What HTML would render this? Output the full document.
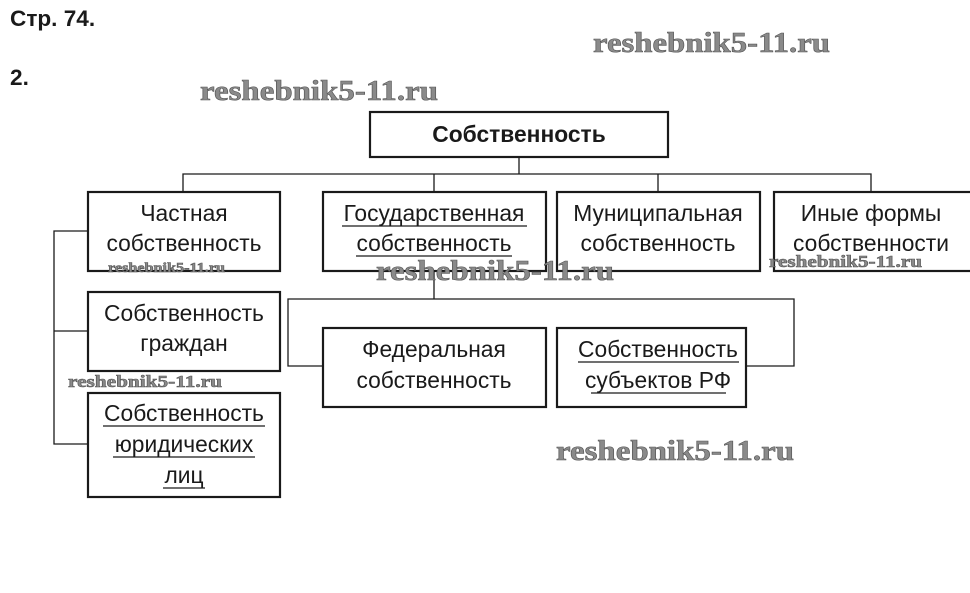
<!DOCTYPE html>
<html><head><meta charset="utf-8"><style>
html,body{margin:0;padding:0;background:#fff;}
svg{display:block;}
.t{font-family:"Liberation Sans","DejaVu Sans",sans-serif;font-size:22.8px;fill:#1a1a1a;text-anchor:middle;}
.w{font-family:"Liberation Serif","DejaVu Serif",serif;font-weight:bold;fill:#8a8a8a;stroke:#555;stroke-width:0.6;}
</style></head><body>
<svg width="970" height="593" viewBox="0 0 970 593" xmlns="http://www.w3.org/2000/svg">
<rect width="970" height="593" fill="#fff"/>
<text x="10" y="26" font-family="Liberation Sans,sans-serif" font-weight="bold" font-size="22.6" fill="#1a1a1a">Стр. 74.</text>
<text x="10" y="85" font-family="Liberation Sans,sans-serif" font-weight="bold" font-size="22.6" fill="#1a1a1a">2.</text>

<g fill="none" stroke="#1a1a1a" stroke-width="1.3">
<polyline points="519,157 519,174"/>
<polyline points="183,192 183,174 871,174 871,192"/>
<line x1="434" y1="174" x2="434" y2="192"/>
<line x1="658" y1="174" x2="658" y2="192"/>
<line x1="434" y1="271" x2="434" y2="299"/>
<polyline points="323,366 288,366 288,299 794,299 794,366 746,366"/>
<polyline points="88,231 54,231 54,444 88,444"/>
<line x1="54" y1="331" x2="88" y2="331"/>
</g>
<g fill="#fff" stroke="#1a1a1a" stroke-width="2.2">
<rect x="370" y="112" width="298" height="45"/>
<rect x="88" y="192" width="192" height="79"/>
<rect x="323" y="192" width="223" height="79"/>
<rect x="557" y="192" width="203" height="79"/>
<rect x="774" y="192" width="200" height="79"/>
<rect x="88" y="292" width="192" height="79"/>
<rect x="88" y="393" width="192" height="104"/>
<rect x="323" y="328" width="223" height="79"/>
<rect x="557" y="328" width="189" height="79"/>
</g>
<text x="519" y="142" class="t" font-weight="bold">Собственность</text>
<text x="184" y="221" class="t">Частная</text>
<text x="184" y="251" class="t">собственность</text>
<text x="434" y="221" class="t">Государственная</text>
<text x="434" y="251" class="t">собственность</text>
<text x="658" y="221" class="t">Муниципальная</text>
<text x="658" y="251" class="t">собственность</text>
<text x="871" y="221" class="t">Иные формы</text>
<text x="871" y="251" class="t">собственности</text>
<text x="184" y="321" class="t">Собственность</text>
<text x="184" y="351" class="t">граждан</text>
<text x="184" y="421" class="t">Собственность</text>
<text x="184" y="452" class="t">юридических</text>
<text x="184" y="483" class="t">лиц</text>
<text x="434" y="357" class="t">Федеральная</text>
<text x="434" y="388" class="t">собственность</text>
<text x="658" y="357" class="t">Собственность</text>
<text x="658" y="388" class="t">субъектов РФ</text>
<g stroke="#1a1a1a" stroke-width="1.2">
<line x1="342" y1="226" x2="527" y2="226"/>
<line x1="356" y1="256" x2="512" y2="256"/>
<line x1="578" y1="362" x2="739" y2="362"/>
<line x1="591" y1="393" x2="726" y2="393"/>
<line x1="103" y1="426" x2="265" y2="426"/>
<line x1="113" y1="457" x2="255" y2="457"/>
<line x1="163" y1="488" x2="205" y2="488"/>
</g>
<text x="593" y="52" class="w" font-size="28" textLength="237" lengthAdjust="spacingAndGlyphs">reshebnik5-11.ru</text>
<text x="200" y="100" class="w" font-size="28" textLength="238" lengthAdjust="spacingAndGlyphs">reshebnik5-11.ru</text>
<text x="376" y="280" class="w" font-size="28" textLength="238" lengthAdjust="spacingAndGlyphs">reshebnik5-11.ru</text>
<text x="556" y="460" class="w" font-size="28" textLength="238" lengthAdjust="spacingAndGlyphs">reshebnik5-11.ru</text>
<text x="108" y="272" class="w" font-size="14" textLength="117" lengthAdjust="spacingAndGlyphs">reshebnik5-11.ru</text>
<text x="769" y="267" class="w" font-size="17" textLength="153" lengthAdjust="spacingAndGlyphs">reshebnik5-11.ru</text>
<text x="68" y="387" class="w" font-size="17" textLength="154" lengthAdjust="spacingAndGlyphs">reshebnik5-11.ru</text>
</svg>
</body></html>
